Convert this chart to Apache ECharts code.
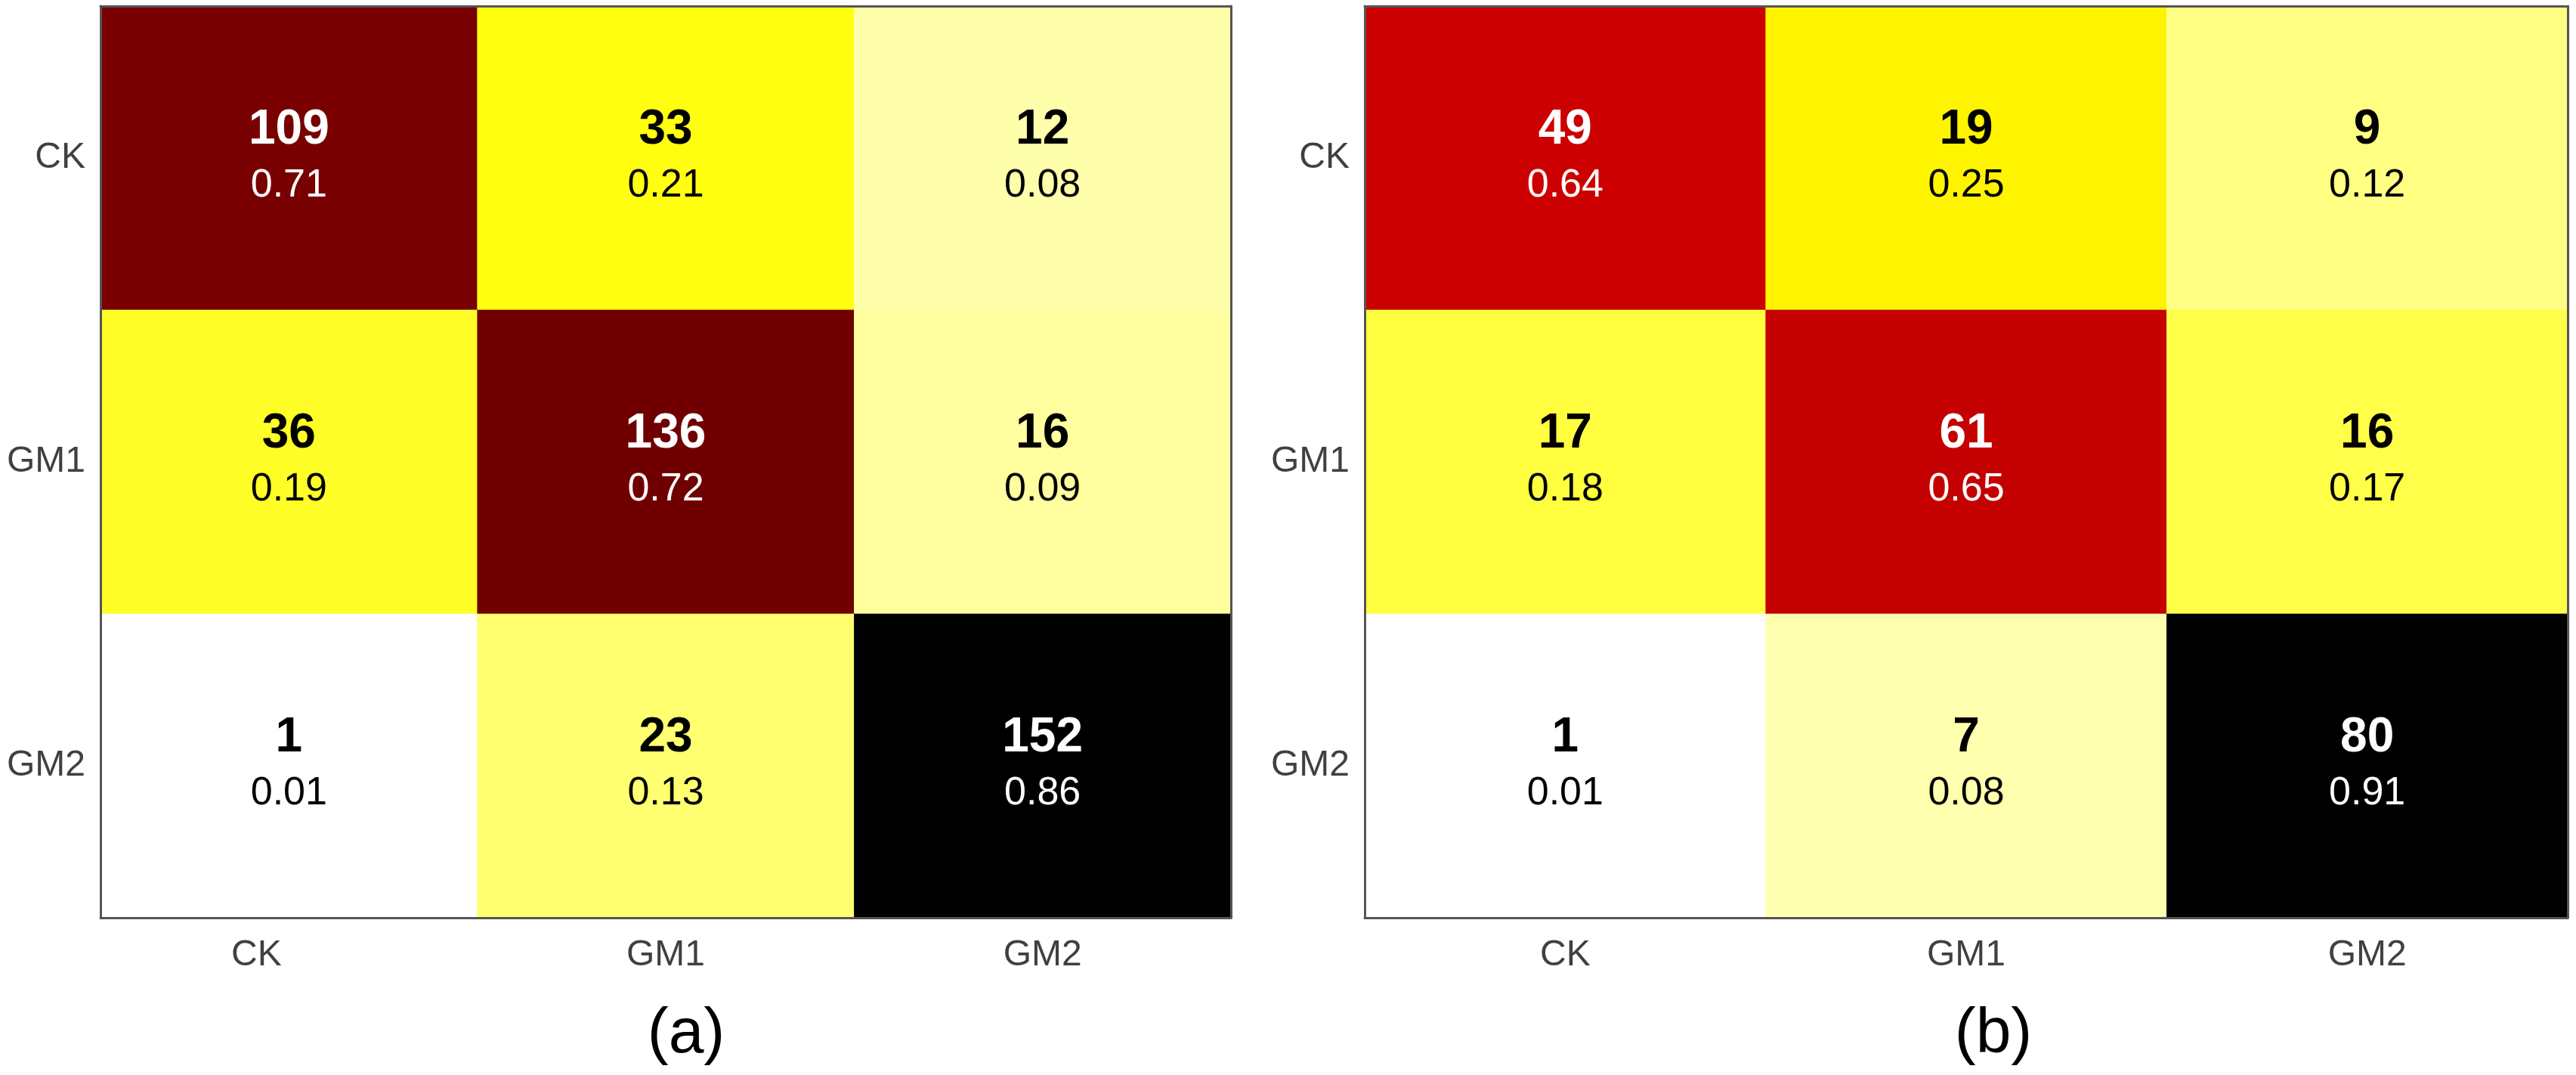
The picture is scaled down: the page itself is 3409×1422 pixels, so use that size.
<!DOCTYPE html>
<html>
<head>
<meta charset="utf-8">
<script src="https://cdn.jsdelivr.net/npm/echarts@6/dist/echarts.min.js"></script>
<style>html,body{margin:0;padding:0;background:#fff;}#c{width:3409px;height:1422px;}</style>
</head>
<body>
<div id="c"></div>
<script>
// categories (rows = true class from top, columns = predicted class)
const classes = ['CK', 'GM1', 'GM2'];
const panelLabels = ['(a)', '(b)'];

// panel (a)
const countsA = [[109, 33, 12], [36, 136, 16], [1, 23, 152]];
const propsA  = [[0.71, 0.21, 0.08], [0.19, 0.72, 0.09], [0.01, 0.13, 0.86]];
// panel (b)
const countsB = [[49, 19, 9], [17, 61, 16], [1, 7, 80]];
const propsB  = [[0.64, 0.25, 0.12], [0.18, 0.65, 0.17], [0.01, 0.08, 0.91]];

// flipped "hot" colormap (white -> yellow -> red -> black), evenly spaced stops
const hotFlip = ['#ffffff', '#ffff80', '#ffff00', '#ffaa00', '#ff5500', '#ff0000', '#aa0000', '#550000', '#000000'];

const FONT = "'Liberation Sans', Arial, sans-serif";

function buildData(counts, props) {
  const d = [];
  for (let r = 0; r < 3; r++) {
    for (let c = 0; c < 3; c++) {
      d.push([c, 2 - r, props[r][c], counts[r][c]]);
    }
  }
  return d;
}

const panels = [
  { counts: countsA, props: propsA, grid: { left: 133, top: 8, width: 1496, height: 1206 }, label: { x: 903 }, firstLabelShift: 86 },
  { counts: countsB, props: propsB, grid: { left: 1806, top: 8, width: 1592, height: 1206 }, label: { x: 2633 }, firstLabelShift: 0 }
];

const grids = [], xAxes = [], yAxes = [], series = [], visualMaps = [], titles = [];
const lineStyle = { color: '#555555', width: 3 };

panels.forEach((p, i) => {
  grids.push(Object.assign({ containLabel: false }, p.grid));
  const flat = p.props.flat();
  const vmin = Math.min(...flat), vmax = Math.max(...flat);
  const xData = classes.map((c, k) => (k === 0 && p.firstLabelShift)
    ? { value: c, textStyle: { padding: [0, p.firstLabelShift, 0, 0] } } : c);
  xAxes.push({
    type: 'category', gridIndex: i, data: xData, position: 'bottom', z: 10,
    axisLine: { show: true, lineStyle }, axisTick: { show: false }, splitLine: { show: false },
    axisLabel: { fontSize: 48, color: '#404040', fontFamily: FONT, margin: 26 }
  });
  xAxes.push({
    type: 'category', gridIndex: i, data: classes, position: 'top', z: 10,
    axisLine: { show: true, lineStyle }, axisTick: { show: false }, axisLabel: { show: false }, splitLine: { show: false }
  });
  yAxes.push({
    type: 'category', gridIndex: i, data: classes.slice().reverse(), position: 'left', z: 10,
    axisLine: { show: true, lineStyle }, axisTick: { show: false }, splitLine: { show: false },
    axisLabel: { fontSize: 48, color: '#404040', fontFamily: FONT, margin: 20 }
  });
  yAxes.push({
    type: 'category', gridIndex: i, data: classes.slice().reverse(), position: 'right', z: 10,
    axisLine: { show: true, lineStyle }, axisTick: { show: false }, axisLabel: { show: false }, splitLine: { show: false }
  });
  visualMaps.push({
    show: false, type: 'continuous', seriesIndex: i, dimension: 2,
    min: vmin, max: vmax, inRange: { color: hotFlip }
  });
  series.push({
    type: 'heatmap', xAxisIndex: 2 * i, yAxisIndex: 2 * i, z: 1,
    data: buildData(p.counts, p.props),
    itemStyle: { borderWidth: 0 },
    emphasis: { disabled: true },
    label: {
      show: true, fontFamily: FONT,
      formatter: (prm) => {
        const t = (prm.value[2] - vmin) / (vmax - vmin);
        const w = t > 0.6;
        return (w ? '{cw|' : '{cb|') + prm.value[3] + '}\n' + (w ? '{pw|' : '{pb|') + prm.value[2].toFixed(2) + '}';
      },
      rich: {
        cw: { fontSize: 64, fontWeight: 'bold', color: '#ffffff', lineHeight: 74, fontFamily: FONT },
        cb: { fontSize: 64, fontWeight: 'bold', color: '#000000', lineHeight: 74, fontFamily: FONT },
        pw: { fontSize: 52, color: '#ffffff', lineHeight: 74, fontFamily: FONT },
        pb: { fontSize: 52, color: '#000000', lineHeight: 74, fontFamily: FONT }
      }
    }
  });
  titles.push({
    text: panelLabels[i], left: p.label.x, top: 1322, textAlign: 'center',
    textStyle: { fontSize: 84, fontWeight: 'normal', color: '#000000', fontFamily: FONT }
  });
});

const chart = echarts.init(document.getElementById('c'), null, { renderer: 'canvas' });
chart.setOption({
  animation: false,
  backgroundColor: '#ffffff',
  title: titles,
  grid: grids,
  xAxis: xAxes,
  yAxis: yAxes,
  visualMap: visualMaps,
  series: series
});
</script>
</body>
</html>
